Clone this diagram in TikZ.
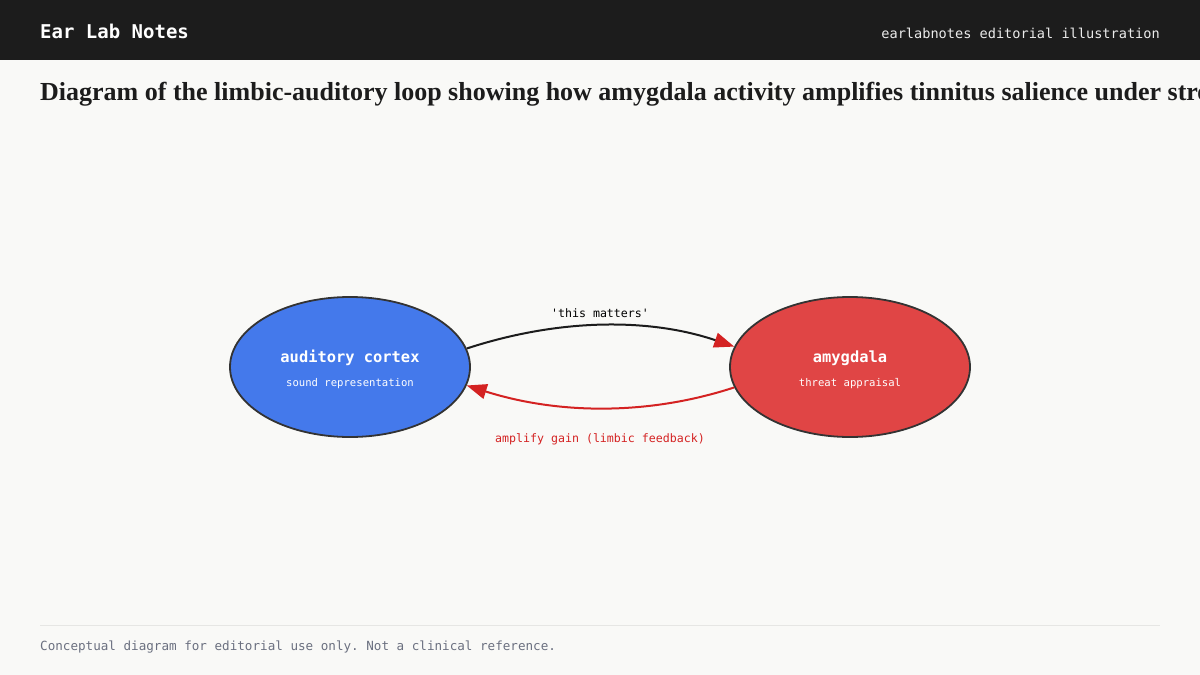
\documentclass[tikz,border=0pt]{standalone}
\usepackage{fontspec}
\setmainfont{Liberation Serif}
\setmonofont{DejaVu Sans Mono}
\usetikzlibrary{shapes.geometric,arrows.meta}
\definecolor{bgc}{HTML}{F9F9F7}
\definecolor{hdr}{HTML}{1C1C1C}
\definecolor{cblue}{HTML}{4479EB}
\definecolor{cred}{HTML}{E04545}
\definecolor{edge}{HTML}{333333}
\definecolor{ared}{HTML}{D42222}
\definecolor{foot}{HTML}{6B7080}
\definecolor{rule}{HTML}{E6E6E4}
\tikzset{
  region/.style={ellipse, draw=edge, line width=1.8pt, minimum width=240pt, minimum height=140pt, inner sep=0pt},
  maintxt/.style={anchor=base, text=white, font=\ttfamily\bfseries\fontsize{15.4}{18}\selectfont, inner sep=0pt},
  subtxt/.style={anchor=base, text=white, font=\ttfamily\fontsize{10.6}{13}\selectfont, inner sep=0pt},
  lbl/.style={anchor=base, font=\ttfamily\fontsize{11.6}{14}\selectfont, inner sep=0pt},
  tip/.style={-{Triangle[length=20pt,width=15pt,color=ared]}, line width=2pt}
}
\begin{document}
\begin{tikzpicture}[x=1pt,y=-1pt]
\useasboundingbox (0,0) rectangle (1200,675);
\clip (0,0) rectangle (1200,675);
\fill[bgc] (0,0) rectangle (1200,675);
\fill[hdr] (0,0) rectangle (1200,60);
\node[anchor=base west, inner sep=0pt, text=white, font=\ttfamily\bfseries\fontsize{19}{22}\selectfont] (brand) at (40,38) {Ear Lab Notes};
\node[anchor=base east, inner sep=0pt, text=white!92!black, font=\ttfamily\fontsize{13.6}{16}\selectfont] (tag) at (1160,38) {earlabnotes editorial illustration};
\node[anchor=base west, inner sep=0pt, text=hdr, font=\bfseries\fontsize{26}{30}\selectfont] (title) at (40,100) {Diagram of the limbic-auditory loop showing how amygdala activity amplifies tinnitus salience under stress};

\node[region, fill=cblue] (ac) at (350,367) {};
\node[region, fill=cred] (am) at (850,367) {};
\node[maintxt] (acm) at (350,362.5) {auditory cortex};
\node[subtxt] (acs) at (350,386) {sound representation};
\node[maintxt] (amm) at (850,362.5) {amygdala};
\node[subtxt] (ams) at (850,386) {threat appraisal};

\draw[tip, draw=hdr] (ac.9) .. controls (560,318) and (650,318) .. (am.170);
\draw[tip, draw=ared] (am.190) .. controls (650,415) and (560,415) .. (ac.351);
\node[lbl, text=black] (l1) at (600,317.5) {'this matters'};
\node[lbl, text=ared] (l2) at (600,442) {amplify gain (limbic feedback)};

\draw[rule, line width=1pt] (40,625) coordinate (r1) -- (1160,625) coordinate (r2);
\node[anchor=base west, inner sep=0pt, text=foot, font=\ttfamily\fontsize{12.6}{16}\selectfont] (ft) at (40,650) {Conceptual diagram for editorial use only. Not a clinical reference.};
\end{tikzpicture}
\end{document}
